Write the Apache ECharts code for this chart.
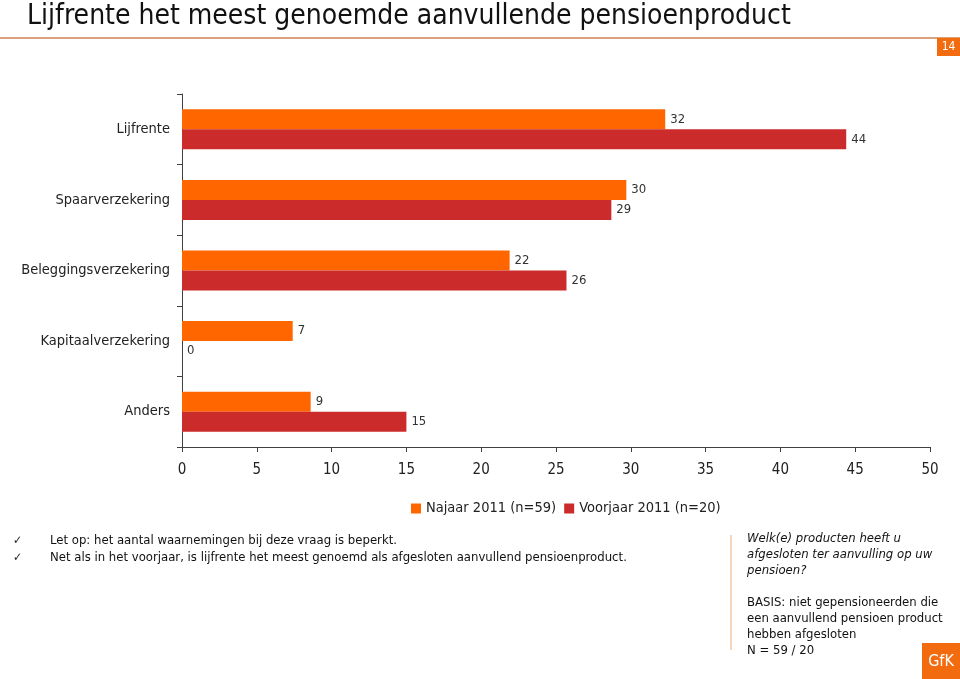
<!DOCTYPE html>
<html><head><meta charset="utf-8">
<script src="https://cdn.jsdelivr.net/npm/echarts@6/dist/echarts.min.js"></script>
<style>html,body{margin:0;padding:0;background:#fff}#c{width:960px;height:679px}</style>
</head><body><div id="c"></div>
<script>
var categories = ['Lijfrente','Spaarverzekering','Beleggingsverzekering','Kapitaalverzekering','Anders'];
var najaar2011 = [32.3, 29.7, 21.9, 7.4, 8.6];
var voorjaar2011 = [44.4, 28.7, 25.7, 0, 15.0];
var seriesNames = ['Najaar 2011 (n=59)', 'Voorjaar 2011 (n=20)'];
var xTicks = [0, 5, 10, 15, 20, 25, 30, 35, 40, 45, 50];

var FONT = '"DejaVu Sans Condensed", "DejaVu Sans", sans-serif';
var chart = echarts.init(document.getElementById('c'));
var lbl = {show:true, position:'right', distance:5, color:'#333', fontSize:13, fontFamily:FONT,
  formatter:function(p){return Math.round(p.value);}};
chart.setOption({
  animation:false,
  textStyle:{fontFamily:FONT},
  grid:{left:182, right:30, top:94, bottom:232, containLabel:false},
  xAxis:{type:'value', min:xTicks[0], max:xTicks[xTicks.length-1], interval:5,
    axisLine:{show:true, lineStyle:{color:'#404040'}},
    axisTick:{show:true, length:5, lineStyle:{color:'#404040'}},
    splitLine:{show:false},
    axisLabel:{color:'#222', fontSize:15, margin:16, fontFamily:FONT}},
  yAxis:{type:'category', data:categories, inverse:true,
    axisLine:{show:true, lineStyle:{color:'#404040'}},
    axisTick:{show:true, length:5, lineStyle:{color:'#404040'}},
    axisLabel:{color:'#222', fontSize:14.5, margin:12, fontFamily:FONT}},
  legend:{data:seriesNames, top:496, left:406, itemWidth:10, itemHeight:10, itemGap:8,
    icon:'rect', textStyle:{fontSize:14.5, color:'#222', fontFamily:FONT}},
  series:[
    {name:seriesNames[0], type:'bar', data:najaar2011, barWidth:20, barGap:'0%',
     itemStyle:{color:'#FF6600'}, label:lbl},
    {name:seriesNames[1], type:'bar', data:voorjaar2011, barWidth:20, barGap:'0%',
     itemStyle:{color:'#CC2B2B'}, label:lbl}
  ],
  graphic:[
    {type:'text', left:27, top:3, style:{text:'Lijfrente het meest genoemde aanvullende pensioenproduct', font:'28px '+FONT, fill:'#111'}},
    {type:'line', shape:{x1:0,y1:38,x2:960,y2:38}, style:{stroke:'#D9A27A', lineWidth:2}},
    {type:'rect', shape:{x:937,y:38,width:23,height:18}, style:{fill:'#F26B0F'}},
    {type:'text', x:948.5, y:47, style:{text:'14', font:'12px '+FONT, fill:'#fff', align:'center', verticalAlign:'middle'}},
    {type:'text', x:13, y:541, style:{text:'✓', font:'12px '+FONT, fill:'#222', verticalAlign:'middle'}},
    {type:'text', x:50, y:541, style:{text:'Let op: het aantal waarnemingen bij deze vraag is beperkt.', font:'13px '+FONT, fill:'#111', verticalAlign:'middle'}},
    {type:'text', x:13, y:558, style:{text:'✓', font:'12px '+FONT, fill:'#222', verticalAlign:'middle'}},
    {type:'text', x:50, y:558, style:{text:'Net als in het voorjaar, is lijfrente het meest genoemd als afgesloten aanvullend pensioenproduct.', font:'13px '+FONT, fill:'#111', verticalAlign:'middle'}},
    {type:'line', shape:{x1:731,y1:535,x2:731,y2:650}, style:{stroke:'#F5D5BC', lineWidth:2}},
    {type:'text', x:747, y:531, style:{text:'Welk(e) producten heeft u\nafgesloten ter aanvulling op uw\npensioen?', font:'italic 13px '+FONT, fill:'#111', lineHeight:16}},
    {type:'text', x:747, y:595, style:{text:'BASIS: niet gepensioneerden die\neen aanvullend pensioen product\nhebben afgesloten\nN = 59 / 20', font:'13px '+FONT, fill:'#111', lineHeight:16}},
    {type:'rect', shape:{x:922,y:643,width:38,height:36}, style:{fill:'#F26B0F'}},
    {type:'text', x:941, y:662, style:{text:'GfK', font:'16px '+FONT, fill:'#fff', align:'center', verticalAlign:'middle'}}
  ]
});
</script></body></html>
